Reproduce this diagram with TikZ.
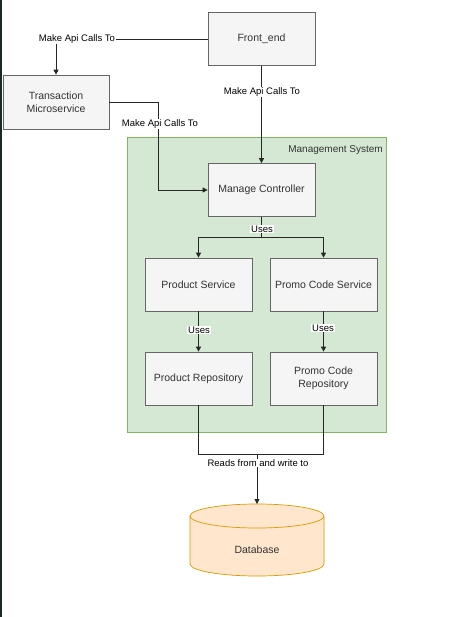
\documentclass[tikz,border=0pt]{standalone}
\usepackage{fontspec}
\setmainfont{Liberation Sans}
\usetikzlibrary{arrows.meta}
\definecolor{boxfill}{HTML}{F5F5F5}
\definecolor{boxline}{HTML}{666666}
\definecolor{boxtext}{HTML}{333333}
\definecolor{grpfill}{HTML}{D5E8D4}
\definecolor{grpline}{HTML}{82B366}
\definecolor{dbfill}{HTML}{FFE6CC}
\definecolor{dbline}{HTML}{D79B00}
\definecolor{barcol}{HTML}{1A2826}
\tikzset{
  x=1pt, y=-1pt,
  svc/.style={draw=boxline, fill=boxfill, minimum width=107pt, minimum height=53pt, inner sep=0pt,
    font=\fontsize{10.5}{12.5}\selectfont, text=boxtext, align=center, line width=0.7pt},
  lbl/.style={fill=white, inner sep=1pt, font=\fontsize{9.5}{11}\selectfont, text=black},
  conn/.style={draw=black!85, line width=0.8pt},
  arr/.style={conn, -{Triangle[length=5pt,width=5pt]}},
  dbshape/.style={draw=dbline, fill=dbfill, line width=0.7pt},
}
\begin{document}
\begin{tikzpicture}
\useasboundingbox (0,0) rectangle (475,617);
\fill[white] (0,0) rectangle (475,617);
\fill[barcol] (0,0) rectangle (2,617);
% group container
\node[draw=grpline, fill=grpfill, line width=0.7pt, minimum width=259pt, minimum height=295pt, inner sep=0pt] (grp) at (256.5,284.5) {};
\node[anchor=north east, inner sep=0pt, font=\fontsize{10}{12}\selectfont, text=boxtext] (grplbl) at (383,145) {Management System};
% boxes
\node[svc] (fe) at (261.5,39) {Front\_end};
\node[svc, minimum width=106pt, minimum height=54pt] (tm) at (56,102) {Transaction\\Microservice};
\node[svc] (mc) at (261.5,190) {Manage Controller};
\node[svc] (ps) at (198.5,284.5) {Product Service};
\node[svc] (pcs) at (323.5,284.5) {Promo Code Service};
\node[svc] (pr) at (198.5,378.5) {Product Repository};
\node[svc] (pcr) at (323.5,378.5) {Promo Code\\Repository};
% database cylinder
\path[dbshape] (190,516) -- (190,564) arc[start angle=180, end angle=0, x radius=67, y radius=12]
  -- (324,516) arc[start angle=0, end angle=-180, x radius=67, y radius=12] -- cycle;
\draw[dbshape, fill=none] (190,516) arc[start angle=180, end angle=0, x radius=67, y radius=12];
\node[font=\fontsize{10.5}{12.5}\selectfont, text=boxtext] (db) at (257,550) {Database};
\coordinate (dbtop) at (257,504);
% connectors
\coordinate (c1) at (56,39);
\draw[arr] (fe.west) -- (c1) -- (tm.north);
\node[lbl] (l1) at (77,39) {Make Api Calls To};
\draw[arr] (fe.south) -- (mc.north);
\node[lbl] (l2) at (262,92) {Make Api Calls To};
\coordinate (c2) at (158,102);
\coordinate (c3) at (158,190);
\draw[arr] (tm.east |- c2) -- (c2) -- (c3) -- (mc.west);
\node[lbl] (l3) at (160,124) {Make Api Calls To};
\coordinate (c4) at (261.5,237);
\draw[arr] (mc.south) -- (c4) -| (ps.north);
\draw[arr] (c4) -| (pcs.north);
\node[lbl] (l4) at (262,229) {Uses};
\draw[arr] (ps.south) -- (pr.north);
\node[lbl] (l5) at (199,330) {Uses};
\draw[arr] (pcs.south) -- (pcr.north);
\node[lbl] (l6) at (323,328) {Uses};
\coordinate (c5) at (198.5,454);
\coordinate (c6) at (323.5,454);
\coordinate (c7) at (257,454);
\draw[conn] (pr.south) -- (c5) -- (c6) -- (pcr.south);
\draw[arr] (c7) -- (dbtop);
\node[lbl] (l7) at (258,463) {Reads from and write to};
\end{tikzpicture}
\end{document}
